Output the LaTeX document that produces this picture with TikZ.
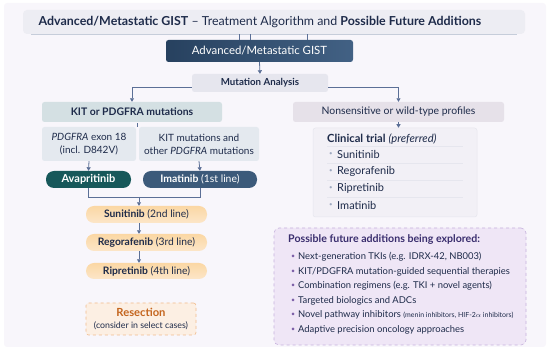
\documentclass[tikz,border=0pt]{standalone}
\usepackage{fontspec}
\setmainfont{Lato}
\usetikzlibrary{positioning, arrows.meta, calc}

\definecolor{ink}{HTML}{1E2B4A}
\definecolor{link}{HTML}{5B6F96}
\definecolor{panel}{HTML}{F8F6FB}
\definecolor{gistA}{HTML}{27415F}
\definecolor{gistB}{HTML}{426184}
\definecolor{mutfill}{HTML}{E6E6EE}
\definecolor{kitfill}{HTML}{D4E0E3}
\definecolor{subfill}{HTML}{E4E9EF}
\definecolor{nonfill}{HTML}{E6E1E9}
\definecolor{avapfill}{HTML}{17585A}
\definecolor{imatfill}{HTML}{3C5A7A}
\definecolor{lineA}{HTML}{FBD7A4}
\definecolor{lineB}{HTML}{FCE6C8}
\definecolor{trialfill}{HTML}{F2F0F6}
\definecolor{futfill}{HTML}{EFE6F6}
\definecolor{futdraw}{HTML}{C6B1DD}
\definecolor{futhead}{HTML}{3A2E6E}
\definecolor{dotcol}{HTML}{7D60A8}
\definecolor{resfill}{HTML}{FCEFE3}
\definecolor{resdraw}{HTML}{F1BB8C}
\definecolor{restext}{HTML}{C4651E}

\tikzset{
  box/.style={rectangle, rounded corners=2.5pt, inner sep=0pt, align=center, text=ink},
  pill/.style={box, rounded corners=8pt},
  linebox/.style={pill, minimum width=121pt, top color=lineA, bottom color=lineB,
    font=\fontsize{10.3}{12}\selectfont},
  link/.style={draw=link, line width=0.8pt},
  arr/.style={link, -{Triangle[length=3.5pt, width=4pt]}},
  item/.style={anchor=west, inner sep=0pt, text=ink, font=\fontsize{11}{13}\selectfont},
  fitem/.style={anchor=west, inner sep=0pt, text=ink, font=\fontsize{9.4}{11}\selectfont}
}

\begin{document}
\begin{tikzpicture}[x=1pt, y=-1pt]
  \useasboundingbox (0,0) rectangle (550,352);
  \fill[panel, rounded corners=3pt] (4,3) rectangle (546,347);

  % heading
  \node[box, fill=mutfill!70!white, minimum width=502pt, minimum height=24pt,
        rounded corners=4pt] (titlebar) at (274,22) {};
  \draw[link!35, line width=1.2pt] ($(titlebar.south west)+(8,0)$) -- ($(titlebar.south east)+(-8,0)$);
  \node[text=ink, font=\fontsize{12.4}{14}\selectfont, inner sep=0pt] (title) at (260,22)
    {\textbf{Advanced/Metastatic GIST} -- Treatment Algorithm and \textbf{Possible Future Additions}};

  \node[box, left color=gistA, right color=gistB, text=white, minimum width=187pt,
        minimum height=22pt, font=\fontsize{11.4}{13}\selectfont] (gist) at (259.5,51)
    {Advanced/Metastatic GIST};
  \foreach \x in {239,250,307}
    \draw[link, line width=0.6pt] (titlebar.south -| \x,0) -- (gist.north -| \x,0);

  \node[box, fill=mutfill, minimum width=136pt, minimum height=18pt,
        font=\fontsize{9.7}{11}\selectfont\bfseries] (mut) at (260,83) {Mutation Analysis};

  % left branch
  \node[box, fill=kitfill, minimum width=180pt, minimum height=20pt,
        font=\fontsize{10.4}{12}\selectfont\bfseries] (kit) at (132,112) {KIT or PDGFRA mutations};
  \node[box, fill=subfill, minimum width=94pt, minimum height=34pt,
        font=\fontsize{10}{13}\selectfont] (pdg) at (89,144) {\textit{PDGFRA} exon 18\\(incl. D842V)};
  \node[box, fill=subfill, minimum width=120pt, minimum height=34pt,
        font=\fontsize{10}{13}\selectfont] (kitm) at (199,144) {KIT mutations and\\other \textit{PDGFRA} mutations};
  \node[pill, fill=avapfill, text=white, minimum width=85pt, minimum height=17pt,
        font=\fontsize{11}{13}\selectfont\bfseries] (avap) at (88.5,179.5) {Avapritinib};
  \node[pill, fill=imatfill, text=white, minimum width=114pt, minimum height=17pt,
        font=\fontsize{10.4}{12}\selectfont] (imat) at (200,179.5) {\textbf{Imatinib} (1st line)};
  \node[linebox, minimum height=17pt] (suni) at (146.5,214.5) {\textbf{Sunitinib} (2nd line)};
  \node[linebox, minimum height=17pt] (rego) at (146.5,242.5) {\textbf{Regorafenib} (3rd line)};
  \node[linebox, minimum height=16pt] (ripr) at (146.5,271) {\textbf{Ripretinib} (4th line)};
  \node[box, fill=resfill, draw=resdraw, dashed, line width=0.6pt, minimum width=110pt,
        minimum height=32pt] (resec) at (141,319)
    {{\fontsize{11.2}{13}\selectfont\bfseries\color{restext}Resection}\\[0pt]
     {\fontsize{8.8}{10}\selectfont(consider in select cases)}};

  % right branch
  \node[box, fill=nonfill, minimum width=211pt, minimum height=20pt,
        font=\fontsize{10.4}{12}\selectfont] (nons) at (398.5,112) {Nonsensitive or wild-type profiles};
  \node[box, fill=trialfill, draw=mutfill, line width=0.5pt, minimum width=164pt,
        minimum height=89pt] (trial) at (395,172.5) {};
  \node[item, font=\fontsize{11.2}{13}\selectfont] (trialhead) at (327,139)
    {\textbf{Clinical trial} \textit{(preferred)}};
  \foreach \y/\name [count=\i] in {154.5/Sunitinib, 171.5/Regorafenib, 188.5/Ripretinib, 205.5/Imatinib} {
    \draw[mutfill, line width=0.6pt] (327,\y-8.5) -- (463,\y-8.5);
    \node[item, text=link!60, font=\fontsize{6}{7}\selectfont] (tdot\i) at (329,\y) {\textbullet};
    \node[item] (trow\i) at (337,\y) {\name};
  }

  \node[box, fill=futfill, draw=futdraw, dashed, line width=0.6pt, rounded corners=5pt,
        minimum width=252pt, minimum height=117pt] (future) at (400,286.5) {};
  \node[item, text=futhead, font=\fontsize{10.6}{12}\selectfont\bfseries] (futhead) at (288,239.5)
    {Possible future additions being explored:};
  \foreach \y/\txt [count=\i] in {257/{Next-generation TKIs (e.g. IDRX-42, NB003)},
      271.5/{KIT/PDGFRA mutation-guided sequential therapies},
      286/{Combination regimens (e.g. TKI + novel agents)},
      300.5/{Targeted biologics and ADCs},
      315/{Novel pathway inhibitors {\fontsize{7}{8}\selectfont(menin inhibitors, HIF-2$\alpha$ inhibitors)}},
      329.5/{Adaptive precision oncology approaches}} {
    \node[fitem, text=dotcol, font=\fontsize{7}{8}\selectfont] (fdot\i) at (291,\y) {\textbullet};
    \node[fitem] (frow\i) at (298,\y) {\txt};
  }

  % connectors
  \draw[arr] (gist.south) -- (mut.north);
  \draw[arr] ($(mut.south west)+(0,-5)$) -| (kit.north);
  \draw[arr] ($(mut.south east)+(0,-5)$) -| (nons.north);
  \draw[link] ($(pdg.north east)!0.5!(kitm.north west)$) -- +(0,-4);
  \draw[arr] (pdg.south) -- (avap.north);
  \draw[arr] (kitm.south) -- (imat.north);
  \coordinate (join) at (139,197);
  \draw[link] (avap.south) -- (avap.south |- join) -- (imat.south |- join) -- (imat.south);
  \draw[arr] (join) -- (suni.north -| join);
  \draw[arr] (suni.south -| join) -- (rego.north -| join);
  \draw[arr] (rego.south -| join) -- (ripr.north -| join);
  \draw[arr] (nons.south) -- (nons.south |- trial.north);
\end{tikzpicture}
\end{document}
